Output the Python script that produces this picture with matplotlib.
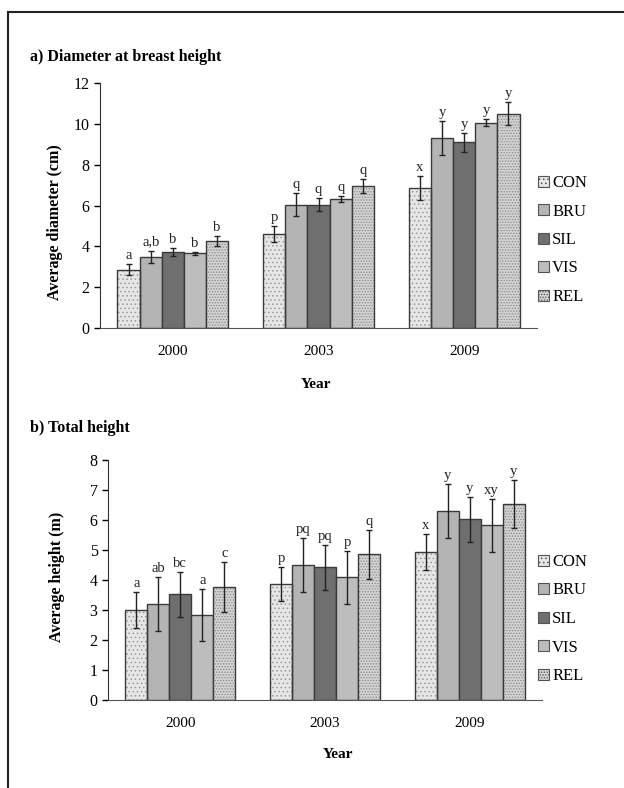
import matplotlib
matplotlib.use("Agg")
import matplotlib.pyplot as plt
from matplotlib.patches import Patch
from matplotlib.lines import Line2D
import numpy as np

plt.rcParams['font.family'] = ['Liberation Serif', 'DejaVu Serif']
plt.rcParams['hatch.linewidth'] = 0.6

years = ["2000", "2003", "2009"]
treatments = ["CON", "BRU", "SIL", "VIS", "REL"]

# diameter (cm), one list per treatment over the three years
dbh = {
    "CON": [2.86, 4.60, 6.86],
    "BRU": [3.49, 6.04, 9.31],
    "SIL": [3.72, 6.04, 9.10],
    "VIS": [3.67, 6.32, 10.05],
    "REL": [4.25, 6.94, 10.50],
}
dbh_err = {
    "CON": [0.27, 0.38, 0.57],
    "BRU": [0.30, 0.57, 0.82],
    "SIL": [0.20, 0.33, 0.47],
    "VIS": [0.07, 0.14, 0.18],
    "REL": [0.25, 0.34, 0.55],
}
dbh_letters = {
    "CON": ["a", "p", "x"],
    "BRU": ["a,b", "q", "y"],
    "SIL": ["b", "q", "y"],
    "VIS": ["b", "q", "y"],
    "REL": ["b", "q", "y"],
}

# total height (m)
ht = {
    "CON": [3.00, 3.86, 4.94],
    "BRU": [3.20, 4.50, 6.30],
    "SIL": [3.52, 4.42, 6.02],
    "VIS": [2.83, 4.09, 5.83],
    "REL": [3.76, 4.86, 6.53],
}
ht_err = {
    "CON": [0.60, 0.57, 0.59],
    "BRU": [0.90, 0.89, 0.89],
    "SIL": [0.75, 0.76, 0.76],
    "VIS": [0.86, 0.88, 0.88],
    "REL": [0.83, 0.81, 0.81],
}
ht_letters = {
    "CON": ["a", "p", "x"],
    "BRU": ["ab", "pq", "y"],
    "SIL": ["bc", "pq", "y"],
    "VIS": ["a", "p", "xy"],
    "REL": ["c", "q", "y"],
}

styles = {
    "CON": dict(color="#e6e6e6", hatch="....", hc="#9a9a9a"),
    "BRU": dict(color="#b4b4b4", hatch=None, hc=None),
    "SIL": dict(color="#6f6f6f", hatch=None, hc=None),
    "VIS": dict(color="#bdbdbd", hatch=None, hc=None),
    "REL": dict(color="#d2d2d2", hatch="......", hc="#8a8a8a"),
}

W, H = 624, 788
fig = plt.figure(figsize=(W / 100, H / 100), dpi=100)


def fx(px):
    return px / W


def fy(py):
    return 1 - py / H


def panel(rect, vals, errs, letters, ymax, ystep, ylabel, title, title_y, ylab_xy, year_y, leg_y):
    ax = fig.add_axes(rect)
    x = np.arange(len(years))
    w = 0.152
    for i, t in enumerate(treatments):
        pos = x + (i - 2) * w
        st = styles[t]
        if st["hatch"]:
            ax.bar(pos, vals[t], w, color=st["color"], hatch=st["hatch"],
                   edgecolor=st["hc"], linewidth=0, zorder=2)
            ax.bar(pos, vals[t], w, fill=False, edgecolor="#3a3a3a", linewidth=1, zorder=3)
        else:
            ax.bar(pos, vals[t], w, color=st["color"], edgecolor="#3a3a3a",
                   linewidth=1, zorder=2)
        ax.errorbar(pos, vals[t], yerr=errs[t], fmt="none", ecolor="#222222",
                    elinewidth=1, capsize=2.5, capthick=1, zorder=4)
        for p, v, e, lab in zip(pos, vals[t], errs[t], letters[t]):
            ax.text(p, v + e + ymax * 0.008, lab, ha="center", va="bottom",
                    fontsize=10.5, color="#222222")
    ax.set_xlim(-0.5, 2.5)
    ax.set_ylim(0, ymax)
    ax.set_yticks(np.arange(0, ymax + 0.01, ystep))
    ax.set_xticks(x)
    ax.set_xticklabels(years, fontsize=11)
    ax.tick_params(axis="x", length=0, pad=12)
    ax.tick_params(axis="y", labelsize=11.5, direction="out", length=4, width=1)
    for s in ["top", "right"]:
        ax.spines[s].set_visible(False)
    ax.spines["left"].set_color("#333333")
    ax.spines["bottom"].set_color("#555555")
    ax.set_facecolor("none")

    fig.text(fx(30), fy(title_y), title, fontsize=11.5, fontweight="bold", va="center")
    fig.text(fx(ylab_xy[0]), fy(ylab_xy[1]), ylabel, fontsize=11.5, fontweight="bold",
             rotation=90, ha="center", va="center")
    fig.text(fx(year_y[0]), fy(year_y[1]), "Year", fontsize=11, fontweight="bold",
             ha="center", va="center")

    handles = []
    for t in treatments:
        st = styles[t]
        handles.append(Patch(facecolor=st["color"], edgecolor="#555555",
                             hatch=st["hatch"], linewidth=0.8))
    fig.legend(handles, treatments, loc="upper left",
               bbox_to_anchor=(fx(538), fy(leg_y)), frameon=False, fontsize=12,
               handlelength=0.65, handleheight=0.65, handletextpad=0.2,
               labelspacing=0.75, borderaxespad=0, borderpad=0)
    return ax


panel([fx(100), fy(328), fx(537) - fx(100), fy(83) - fy(328)],
      dbh, dbh_err, dbh_letters, 12, 2, "Average diameter (cm)",
      "a) Diameter at breast height", 57, (55, 222), (316, 384), 175)

panel([fx(108), fy(700), fx(542) - fx(108), fy(460) - fy(700)],
      ht, ht_err, ht_letters, 8, 1, "Average height (m)",
      "b) Total height", 428, (57, 577), (338, 755), 554)

# outer frame (top and left edges)
fig.add_artist(Line2D([fx(8), 1], [fy(12), fy(12)], color="#222222", linewidth=1.5))
fig.add_artist(Line2D([fx(8), fx(8)], [fy(12), 0], color="#222222", linewidth=1.5))

fig.savefig("out.png", dpi=100)
